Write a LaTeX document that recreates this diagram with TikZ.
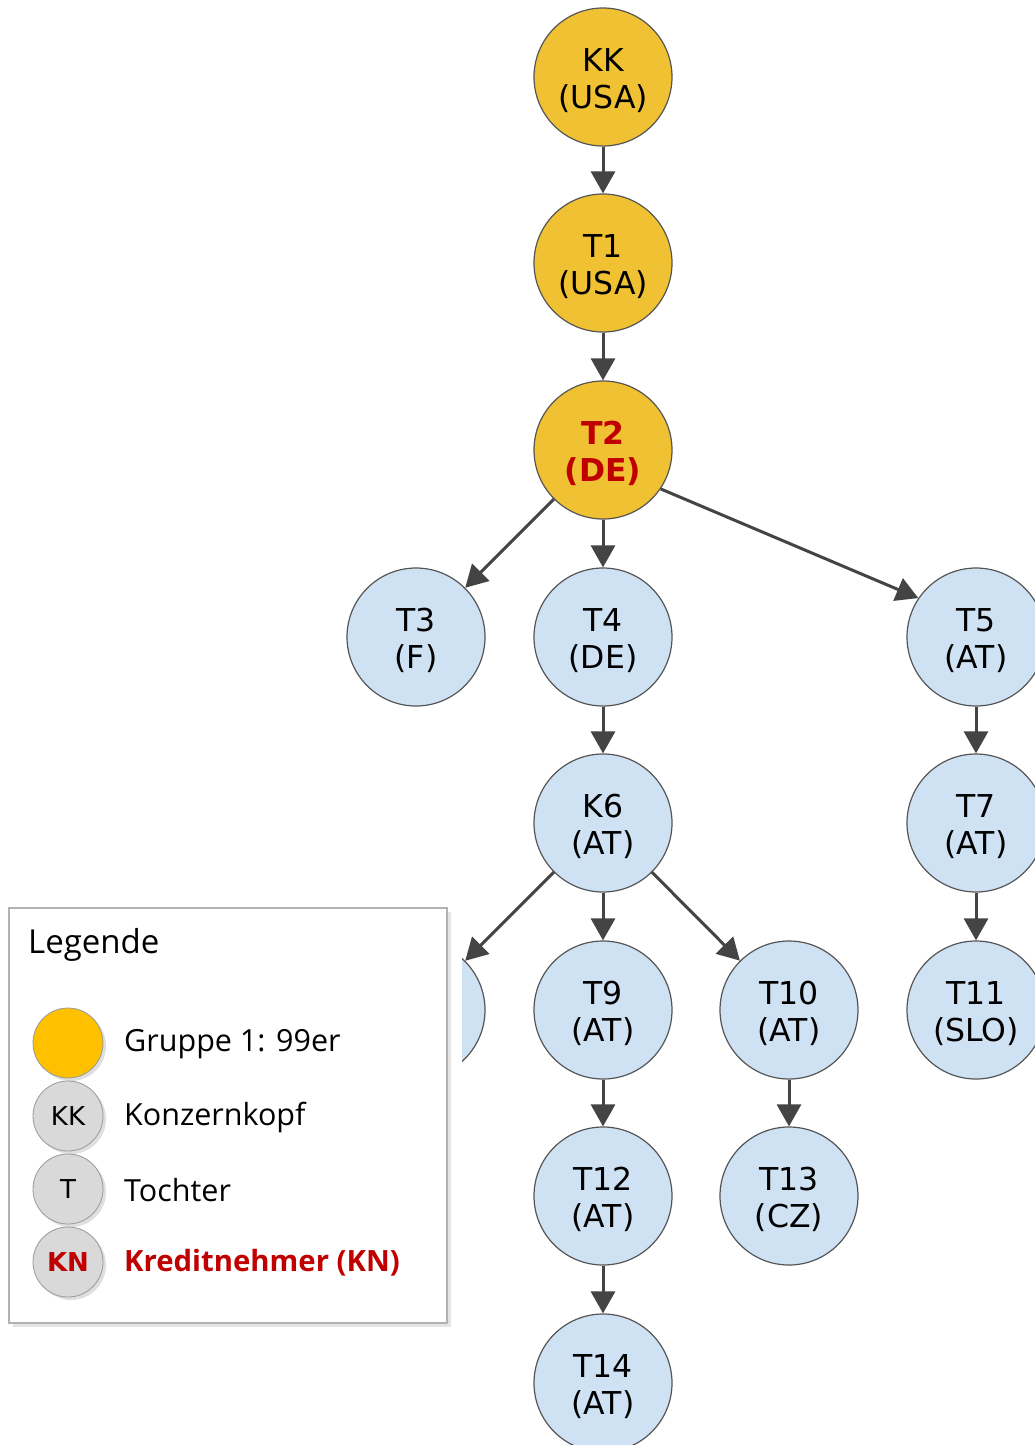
\documentclass[tikz,border=0pt]{standalone}
\usepackage{fontspec}
\setmainfont{DejaVu Sans}
\newfontfamily\legfont{Open Sans}
\usetikzlibrary{arrows.meta,shadows}
\definecolor{gold}{RGB}{240,193,50}
\definecolor{legyellow}{RGB}{255,192,0}
\definecolor{lightblue}{RGB}{207,226,243}
\definecolor{nodeline}{RGB}{85,85,85}
\definecolor{arrowgray}{RGB}{68,68,68}
\definecolor{kred}{RGB}{192,0,0}
\definecolor{leggray}{RGB}{217,217,217}
\newcommand{\twoline}[2]{\raisebox{-6pt}[\height][\depth]{\begin{tabular}{@{}c@{}}#1\\#2\end{tabular}}}
\tikzset{
  ent/.style={circle, draw=nodeline, line width=1.2pt, minimum size=138pt, inner sep=0pt,
    align=center, font=\fontsize{31.5}{37}\selectfont},
  grp/.style={ent, fill=gold},
  sub/.style={ent, fill=lightblue},
  link/.style={draw=arrowgray, line width=3pt, -{Triangle[length=22pt,width=24pt]}},
  legdot/.style={circle, draw=gray!80, line width=0.8pt, minimum size=70pt, inner sep=0pt,
    font=\fontsize{26}{30}\selectfont,
    drop shadow={shadow xshift=3pt, shadow yshift=-3pt, opacity=0.25, fill=gray}},
  legtxt/.style={anchor=west, inner sep=0pt, font=\legfont\fontsize{30.5}{36}\selectfont}
}
\begin{document}
\begin{tikzpicture}[x=1pt,y=-1pt]
\useasboundingbox (0,0) rectangle (1035,1445);
% tree nodes
\node[grp] (kk) at (603,77) {\twoline{KK}{(USA)}};
\node[grp] (t1) at (603,263) {\twoline{T1}{(USA)}};
\node[grp, text=kred, font=\bfseries\fontsize{31.5}{37}\selectfont] (t2) at (603,450) {\twoline{T2}{(DE)}};
\node[sub] (t3) at (416,637) {\twoline{T3}{(F)}};
\node[sub] (t4) at (603,637) {\twoline{T4}{(DE)}};
\node[sub] (t5) at (976,637) {\twoline{T5}{(AT)}};
\node[sub] (k6) at (603,823) {\twoline{K6}{(AT)}};
\node[sub] (t7) at (976,823) {\twoline{T7}{(AT)}};
\node[sub] (t8) at (416,1010) {};
\node[sub] (t9) at (603,1010) {\twoline{T9}{(AT)}};
\node[sub] (t10) at (789,1010) {\twoline{T10}{(AT)}};
\node[sub] (t11) at (976,1010) {\twoline{T11}{(SLO)}};
\node[sub] (t12) at (603,1196) {\twoline{T12}{(AT)}};
\node[sub] (t13) at (789,1196) {\twoline{T13}{(CZ)}};
\node[sub] (t14) at (603,1383) {\twoline{T14}{(AT)}};
% connectors
\draw[link] (kk) -- (t1);
\draw[link] (t1) -- (t2);
\draw[link] (t2) -- (t3);
\draw[link] (t2) -- (t4);
\draw[link] (t2.-34) -- (t5.146);
\draw[link] (t4) -- (k6);
\draw[link] (k6) -- (t8);
\draw[link] (k6) -- (t9);
\draw[link] (k6) -- (t10);
\draw[link] (t5) -- (t7);
\draw[link] (t7) -- (t11);
\draw[link] (t9) -- (t12);
\draw[link] (t10) -- (t13);
\draw[link] (t12) -- (t14);
% legend
\fill[white] (0,900) rectangle (462,1340);
\draw[draw=gray!60, line width=1.2pt, fill=white,
  drop shadow={shadow xshift=4pt, shadow yshift=-4pt, opacity=0.2, fill=gray}]
  (9,908) rectangle (447,1323);
\node[legtxt, font=\legfont\fontsize{33}{38}\selectfont] (legtitle) at (28,945) {Legende};
\node[legdot, fill=legyellow] (lg1) at (68,1043) {};
\node[legtxt] (lt1) at (124,1044) {Gruppe 1: 99er};
\node[legdot, fill=leggray] (lg2) at (68,1116) {KK};
\node[legtxt] (lt2) at (124,1117) {Konzernkopf};
\node[legdot, fill=leggray] (lg3) at (68,1189) {T};
\node[legtxt] (lt3) at (124,1190) {Tochter};
\node[legdot, fill=leggray, text=kred, font=\bfseries\fontsize{26}{30}\selectfont] (lg4) at (68,1262) {KN};
\node[legtxt, text=kred, font=\legfont\bfseries\fontsize{29.3}{34}\selectfont] (lt4) at (124,1263) {Kreditnehmer (KN)};
\end{tikzpicture}
\end{document}
